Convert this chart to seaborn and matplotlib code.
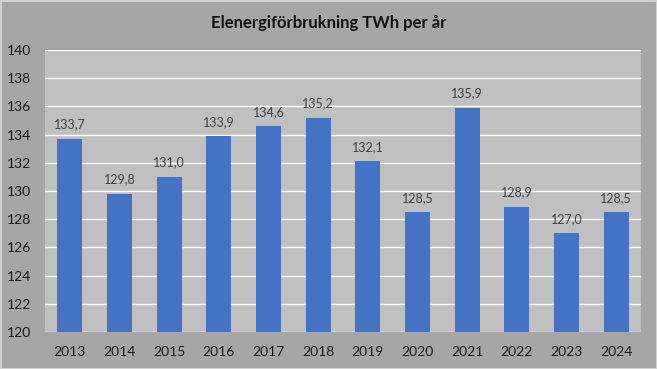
import matplotlib
matplotlib.use("Agg")
import matplotlib.pyplot as plt
import matplotlib.patches as mpatches
import seaborn as sns
import pandas as pd

years = ["2013", "2014", "2015", "2016", "2017", "2018", "2019", "2020", "2021", "2022", "2023", "2024"]
values = [133.7, 129.8, 131.0, 133.9, 134.6, 135.2, 132.1, 128.5, 135.9, 128.9, 127.0, 128.5]
title = "Elenergiförbrukning TWh per år"

sns.set_theme(style="white")
plt.rcParams["font.family"] = ["Lato", "DejaVu Sans"]

df = pd.DataFrame({"year": years, "value": values})

fig = plt.figure(figsize=(6.57, 3.69), dpi=100, facecolor="#a6a6a6")
ax = fig.add_axes([45/657, 1-332/369, (641-45)/657, (332-50)/369])
ax.set_facecolor("#c0c0c0")

sns.barplot(data=df, x="year", y="value", color="#4472c4", width=0.5, ax=ax,
            saturation=1, zorder=3, linewidth=0, edgecolor="none")

ax.set_ylim(120, 140)
ax.set_yticks(range(120, 141, 2))
ax.yaxis.grid(True, color="white", linewidth=1.0, zorder=0)
ax.set_axisbelow(True)
for s in ax.spines.values():
    s.set_visible(False)
ax.set_xlabel("")
ax.set_ylabel("")
ax.tick_params(axis="both", length=0, labelsize=10, colors="#1a1a1a")
ax.tick_params(axis="x", pad=10)
ax.tick_params(axis="y", pad=10)

for p, v in zip(ax.patches, values):
    ax.annotate(f"{v:.1f}".replace(".", ","), (p.get_x() + p.get_width()/2, v),
                xytext=(0, 6), textcoords="offset points", ha="center", va="bottom",
                fontsize=9, color="#404040")

fig.text(0.5, 1-23/369, title, ha="center", va="center", fontsize=12, fontweight="bold", color="#111111")

fig.patches.append(mpatches.Rectangle((0.5/657, 0.5/369), 1-1/657, 1-1/369, transform=fig.transFigure,
                                      fill=False, edgecolor="#d0d0d0", linewidth=1.5))

fig.savefig("out.png", dpi=100, facecolor=fig.get_facecolor())
